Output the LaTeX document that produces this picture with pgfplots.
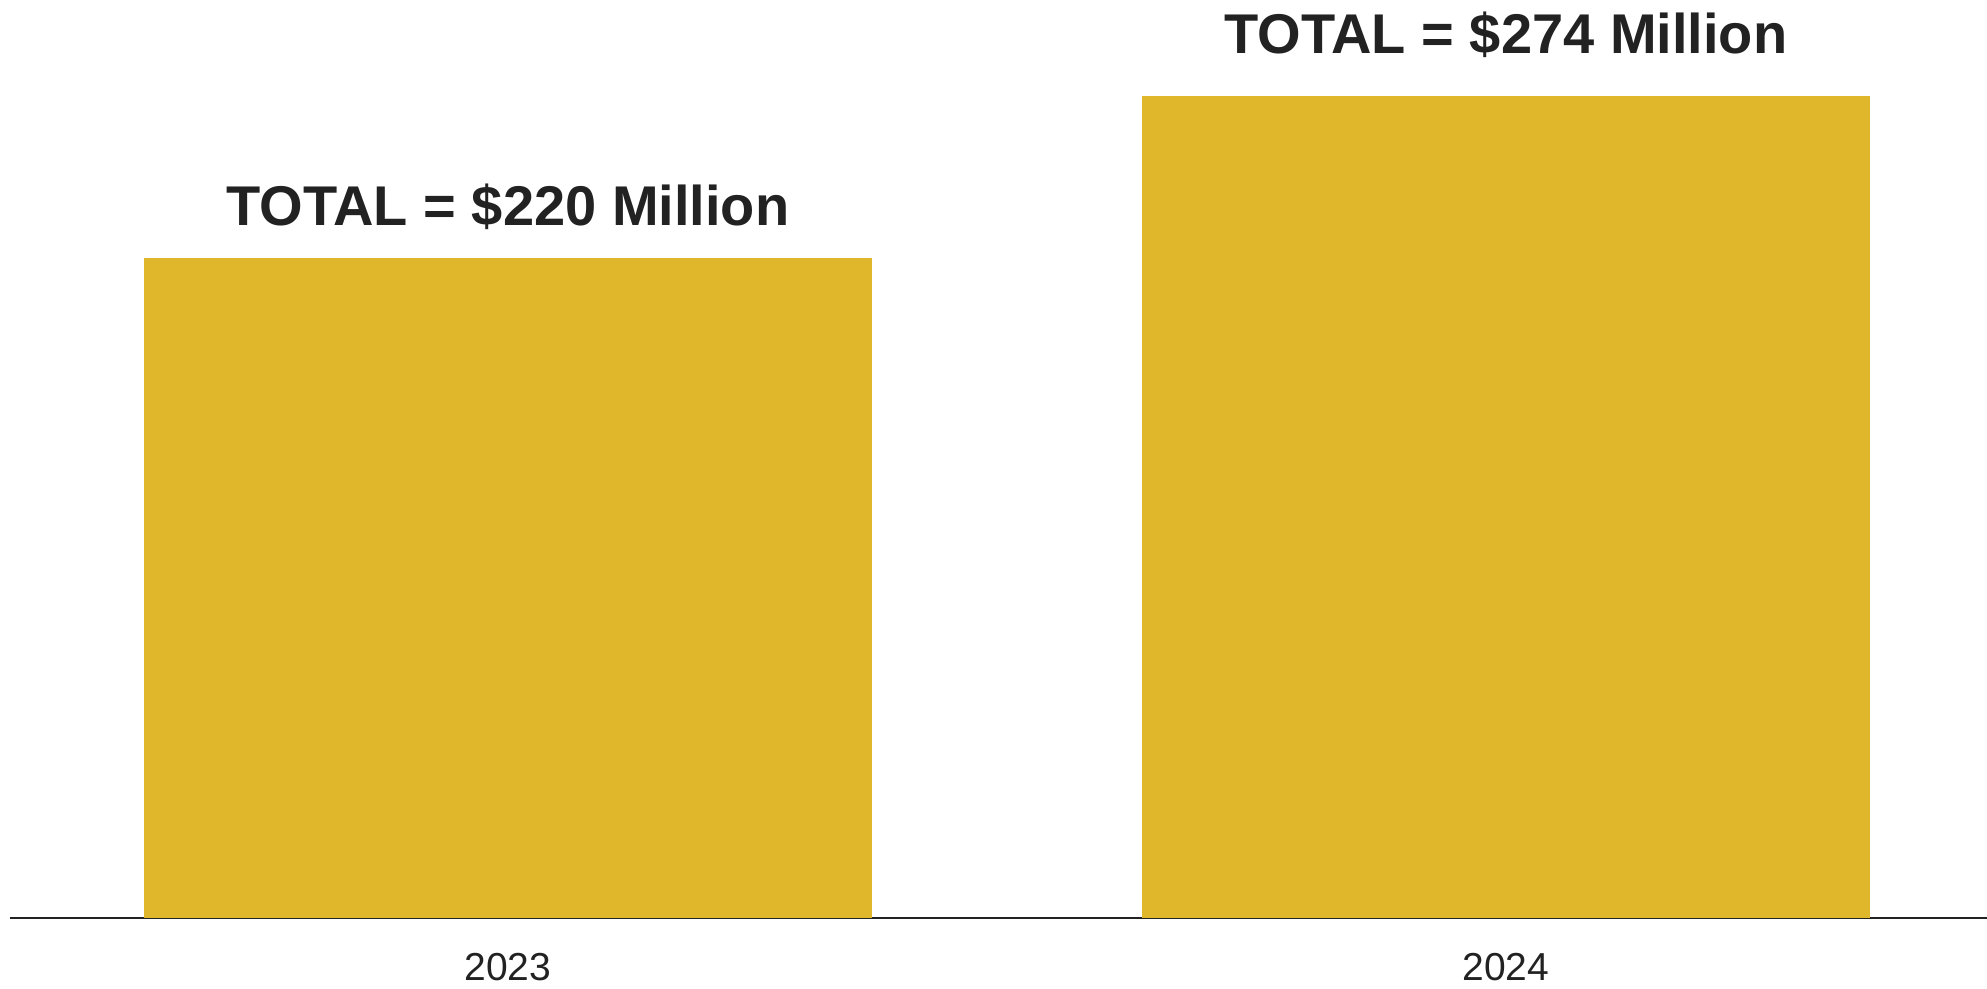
\documentclass[border=0pt]{standalone}
\usepackage{fontspec}
\setmainfont{Liberation Sans}
\usepackage{pgfplots}
\pgfplotsset{compat=1.18}
\definecolor{bargold}{RGB}{224,183,43}
\definecolor{ink}{RGB}{34,34,34}

\begin{document}
\begin{tikzpicture}
\begin{axis}[
  at={(0pt,0pt)}, anchor=south west,
  scale only axis, width=988.75pt, height=459pt,
  xmin=-0.4995, xmax=1.482, ymin=0, ymax=306,
  clip=false,
  /pgf/number format/assume math mode=true,
  axis x line*=bottom, axis y line=none,
  x axis line style={draw=ink, line width=1.35pt, -},
  xtick={0,1}, xticklabels={2023,2024},
  major tick length=0pt,
  xticklabel style={font=\fontsize{19.5}{23}\selectfont, text=ink, anchor=base, yshift=-31.5pt},
  ytick=\empty,
]
% 2023 total
\addplot[ybar, bar width=0.7295, bar shift=0pt, fill=bargold, draw=none,
  nodes near coords={TOTAL = \$\pgfmathprintnumber{\pgfplotspointmeta} Million},
  every node near coord/.append style={anchor=base, yshift=16pt,
    font=\fontsize{28}{32}\selectfont\bfseries, text=ink}]
  coordinates {(0,220)};
% 2024 total
\addplot[ybar, bar width=0.7295, bar shift=0pt, fill=bargold, draw=none,
  nodes near coords={TOTAL = \$\pgfmathprintnumber{\pgfplotspointmeta} Million},
  every node near coord/.append style={anchor=base, yshift=21pt,
    font=\fontsize{28}{32}\selectfont\bfseries, text=ink}]
  coordinates {(1,274)};
\end{axis}
\pgfresetboundingbox
\path[use as bounding box] (-4.75pt,-35.5pt) rectangle (988.75pt,459pt);
\end{tikzpicture}
\end{document}
